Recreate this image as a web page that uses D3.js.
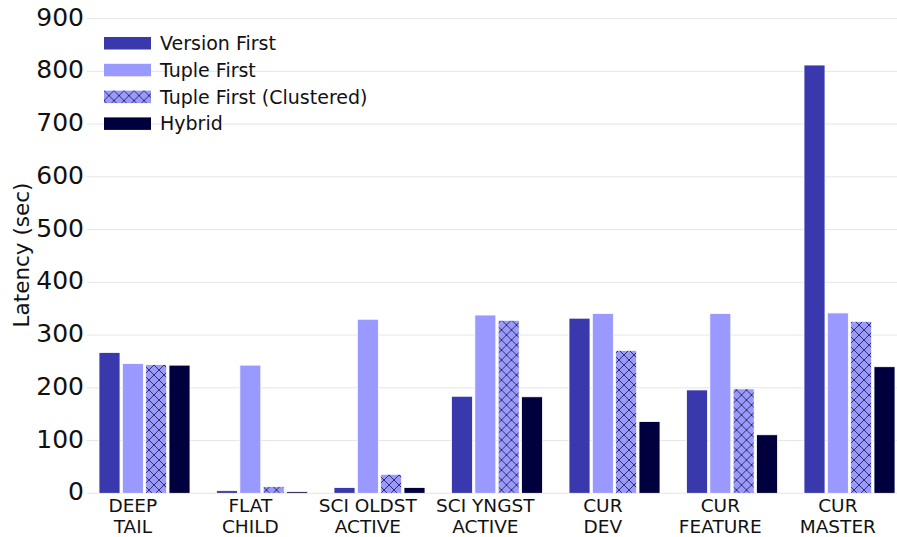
<!DOCTYPE html>
<html>
<head>
<meta charset="utf-8">
<script src="https://cdn.jsdelivr.net/npm/d3@7"></script>
<style>
  html, body { margin: 0; padding: 0; background: #ffffff; }
  svg { display: block; font-family: "DejaVu Sans", sans-serif; }
</style>
</head>
<body>
<svg id="chart" width="897" height="537"></svg>
<script>
// Query workloads (two-line labels)
const categories = [
  ["DEEP", "TAIL"],
  ["FLAT", "CHILD"],
  ["SCI OLDST", "ACTIVE"],
  ["SCI YNGST", "ACTIVE"],
  ["CUR", "DEV"],
  ["CUR", "FEATURE"],
  ["CUR", "MASTER"]
];
const seriesNames = ["Version First", "Tuple First", "Tuple First (Clustered)", "Hybrid"];

// Latency in seconds, one value per workload
const versionFirst   = [267, 5, 11, 184, 332, 196, 812];
const tupleFirst     = [246, 243, 330, 338, 341, 341, 342];
const tupleClustered = [244, 13, 36, 328, 271, 198, 326];
const hybrid         = [243, 3, 11, 183, 136, 111, 240];

const yTicks = [0, 100, 200, 300, 400, 500, 600, 700, 800, 900];

const seriesValues = [versionFirst, tupleFirst, tupleClustered, hybrid];
const fills = ["#3939ad", "#9999ff", "url(#crosshatch)", "#00003f"];

const svg = d3.select("#chart");
const W = 897, H = 537;

const x0 = d3.scaleBand()
  .domain(d3.range(categories.length))
  .range([85.75, 908.25])
  .padding(0);
const groupWidth = 91;
const x1 = d3.scaleBand()
  .domain(d3.range(seriesNames.length))
  .range([0, groupWidth])
  .paddingInner(0.1)
  .paddingOuter(0);
const groupOffset = (x0.bandwidth() - groupWidth) / 2;

const y = d3.scaleLinear().domain([0, 900]).range([493.3, 18.6]);

// Cross-hatch fill
const defs = svg.append("defs");
const pat = defs.append("pattern")
  .attr("id", "crosshatch")
  .attr("patternUnits", "userSpaceOnUse")
  .attr("width", 10).attr("height", 10);
pat.append("rect").attr("width", 10).attr("height", 10).attr("fill", "#9999ff");
pat.append("path")
  .attr("d", "M0,0 L10,10 M10,0 L0,10 M-1,9 L1,11 M9,-1 L11,1 M-1,1 L1,-1 M9,11 L11,9")
  .attr("stroke", "#26264d").attr("stroke-width", 0.9).attr("fill", "none");

// Horizontal grid lines
const yAxis = d3.axisLeft(y).tickValues(yTicks).tickSize(0).tickPadding(0);
svg.append("g")
  .selectAll("line")
  .data(yTicks)
  .join("line")
  .attr("x1", 86.5).attr("x2", W)
  .attr("y1", d => y(d)).attr("y2", d => y(d))
  .attr("stroke", "#e6e6e6").attr("stroke-width", 1);

// Y tick labels
const gy = svg.append("g").attr("transform", "translate(84,-1.5)").call(yAxis);
gy.select(".domain").remove();
gy.selectAll("text")
  .attr("font-family", "DejaVu Sans, sans-serif")
  .attr("font-size", 25)
  .attr("fill", "#111");

// Y axis title
svg.append("text")
  .attr("transform", "translate(28.5,255) rotate(-90)")
  .attr("text-anchor", "middle")
  .attr("font-size", 21.5)
  .attr("fill", "#111")
  .text("Latency (sec)");

// Bars
const groups = svg.append("g")
  .selectAll("g")
  .data(categories.map((c, i) => i))
  .join("g")
  .attr("transform", i => `translate(${x0(i) + groupOffset},0)`);

groups.selectAll("rect")
  .data(i => seriesValues.map((vals, s) => ({ s, v: vals[i] })))
  .join("rect")
  .attr("x", d => x1(d.s))
  .attr("width", x1.bandwidth())
  .attr("y", d => y(d.v))
  .attr("height", d => y(0) - y(d.v))
  .attr("fill", d => fills[d.s])
  .attr("stroke", "#ffffff")
  .attr("stroke-width", 0.8);

// Category labels, centred under the second bar of each group
const labelX = i => x0(i) + groupOffset + x1(1) + x1.bandwidth() / 2;
const labels = svg.append("g")
  .selectAll("text")
  .data(categories)
  .join("text")
  .attr("x", (c, i) => labelX(i))
  .attr("y", 511.7)
  .attr("text-anchor", "middle")
  .attr("font-size", 18.5)
  .attr("fill", "#111");
labels.selectAll("tspan")
  .data(c => c)
  .join("tspan")
  .attr("x", function () { return d3.select(this.parentNode).attr("x"); })
  .attr("dy", (d, j) => j === 0 ? 0 : 21)
  .text(d => d);

// Legend
const legend = svg.append("g").attr("transform", "translate(104,37)");
const rowStep = 26.8;
const items = legend.selectAll("g")
  .data(seriesNames)
  .join("g")
  .attr("transform", (d, i) => `translate(0,${i * rowStep})`);
items.append("rect")
  .attr("width", 47).attr("height", 12.5)
  .attr("fill", (d, i) => fills[i]);
items.append("text")
  .attr("x", 56).attr("y", 13)
  .attr("font-size", 19)
  .attr("fill", "#111")
  .text(d => d);
</script>
</body>
</html>
